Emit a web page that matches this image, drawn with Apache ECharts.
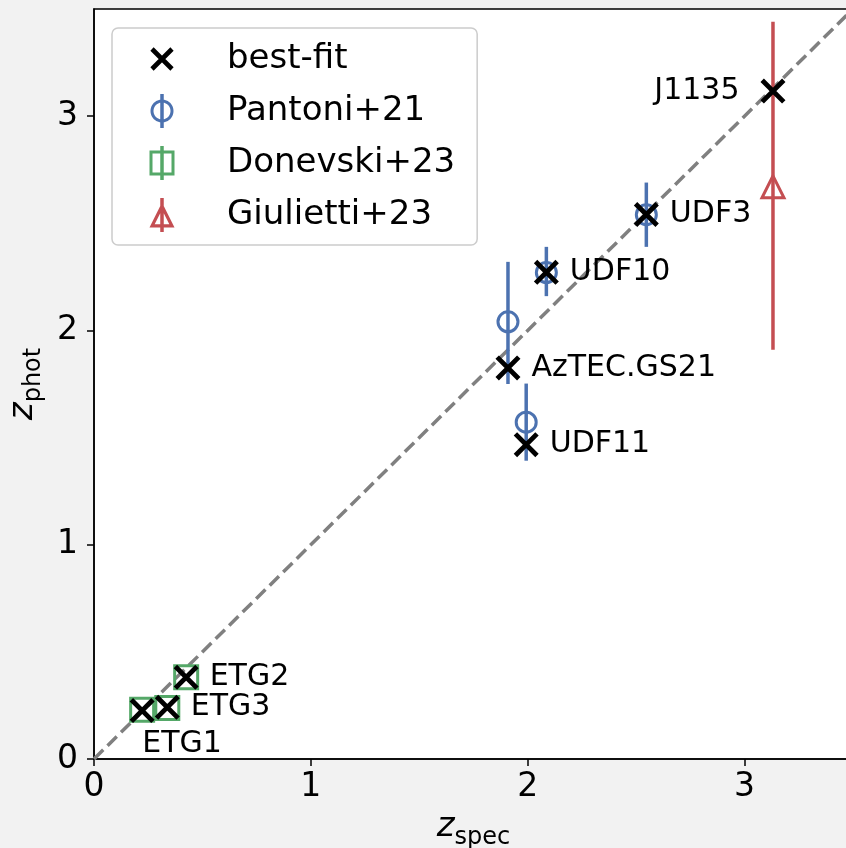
<!DOCTYPE html>
<html><head><meta charset="utf-8">
<script src="https://cdn.jsdelivr.net/npm/echarts@6.0.0/dist/echarts.min.js"></script>
<style>html,body{margin:0;padding:0;background:#f2f2f2;}#c{width:846px;height:848px;}</style>
</head><body><div id="c"></div>
<script>
// ---- data ----
const sourceNames = ['J1135','UDF3','UDF10','AzTEC.GS21','UDF11','ETG2','ETG3','ETG1'];
const zSpec       = [3.131, 2.547, 2.086, 1.909, 1.993, 0.425, 0.338, 0.222];
const zBestFit    = [3.117, 2.541, 2.271, 1.825, 1.467, 0.381, 0.241, 0.226];

const pantoniSpec  = [2.547, 2.086, 1.909, 1.993];
const pantoniPhot  = [2.54, 2.27, 2.04, 1.572];
const pantoniErrLo = [0.15, 0.11, 0.29, 0.18];
const pantoniErrHi = [0.15, 0.12, 0.28, 0.18];

const donevskiSpec = [0.425, 0.338, 0.222];
const donevskiPhot = [0.381, 0.238, 0.230];

const giuliettiSpec  = [3.131];
const giuliettiPhot  = [2.67];
const giuliettiErrLo = [0.76];
const giuliettiErrHi = [0.77];

const oneToOne = [[0, 0], [3.5, 3.5]];
const tickValues = [0, 1, 2, 3];

// ---- styles ----
const FONT = 'DejaVu Sans';
const BLUE = '#4c72b0', GREEN = '#55a868', RED = '#c44e52';

function poly(pts){ return 'M' + pts.map(p => p[0].toFixed(2) + ',' + p[1].toFixed(2)).join('L') + 'Z'; }
function rectPos(x1,y1,x2,y2){ return poly([[x1,y1],[x2,y1],[x2,y2],[x1,y2]]); }
function circlePts(cx,cy,r,n,rev){
  const pts=[]; for(let i=0;i<n;i++){ const a=(rev?-1:1)*2*Math.PI*i/n; pts.push([cx+r*Math.cos(a), cy+r*Math.sin(a)]); } return pts;
}
function xShape(cx,cy,h,w){
  const d = w/(2*Math.SQRT2);
  const a = poly([[cx-h-d,cy-h+d],[cx-h+d,cy-h-d],[cx+h+d,cy+h-d],[cx+h-d,cy+h+d]]);
  const b = poly([[cx+h-d,cy-h-d],[cx+h+d,cy-h+d],[cx-h+d,cy+h+d],[cx-h-d,cy+h-d]]);
  return a + b;
}
function corners(W,H){ return 'M0,0L0.01,0L0,0.01Z' + 'M'+W+','+H+'L'+(W-0.01)+','+H+'L'+W+','+(H-0.01)+'Z'; }
const IW = 80, IH = 40, CX = 20, CY = 20;
const iconX = 'path://' + corners(IW,IH) + xShape(CX,CY,10,4.6);
const iconPhi = 'path://' + corners(IW,IH) + poly(circlePts(CX,CY,11.5,48,false)) + poly(circlePts(CX,CY,8.5,48,true)) + rectPos(CX-1.75,CY-17,CX+1.75,CY+17);
const iconSq = 'path://' + corners(IW,IH) + rectPos(CX-12.5,CY-12.5,CX+12.5,CY+12.5) + poly([[CX-9.5,CY-9.5],[CX-9.5,CY+9.5],[CX+9.5,CY+9.5],[CX+9.5,CY-9.5]]) + rectPos(CX-1.75,CY-17,CX+1.75,CY+17);
function triIcon(){
  const a = 12.5, ic = CY + 0.382*a, r = 0.618*a, k = (r-3.2)/r;
  const outer = [[CX,CY-a],[CX+a,CY+a],[CX-a,CY+a]];
  const inner = outer.map(p => [CX + (p[0]-CX)*k, ic + (p[1]-ic)*k]).reverse();
  return 'path://' + corners(IW,IH) + poly(outer) + poly(inner) + rectPos(CX-1.75,CY-17,CX+1.75,CY+17);
}
const iconTri = triIcon();
const plotX = 'path://' + xShape(50,50,38,17);

function errSeries(name, xs, ys, lo, hi, color){
  return {
    type:'custom', name:name, z:2, silent:true, animation:false,
    data: xs.map((x,i) => [x, ys[i]-lo[i], ys[i]+hi[i]]),
    encode:{x:0, y:[1,2]},
    renderItem:function(params, api){
      const p1 = api.coord([api.value(0), api.value(1)]);
      const p2 = api.coord([api.value(0), api.value(2)]);
      return {type:'line', shape:{x1:p1[0],y1:p1[1],x2:p2[0],y2:p2[1]}, style:{stroke:color, lineWidth:3.5}};
    }
  };
}

const labelCfg = {
  'J1135': {position:'left', distance:21},
  'ETG1': {position:'inside', offset:[40,34]}
};
const bestData = sourceNames.map((n,i) => {
  const item = {name:n, value:[zSpec[i], zBestFit[i]]};
  if (labelCfg[n]) item.label = labelCfg[n];
  return item;
});

const axisCommon = {
  type:'value', min:0, max:3.5, interval:1,
  axisLine:{show:true, onZero:false, lineStyle:{color:'#000', width:1.5}},
  axisTick:{show:true, inside:false, length:7, customValues:tickValues, lineStyle:{color:'#000', width:1.5}},
  splitLine:{show:false},
  nameLocation:'middle'
};
const nameRich = {
  i:{fontStyle:'italic', fontSize:34, fontFamily:FONT, color:'#000', verticalAlign:'bottom'},
  s:{fontSize:24, fontFamily:FONT, color:'#000', verticalAlign:'bottom', padding:[0,0,-6,0]}
};

const chart = echarts.init(document.getElementById('c'), null, {renderer:'canvas'});
chart.setOption({
  animation:false,
  backgroundColor:'#f2f2f2',
  grid:{left:94, top:9, width:759, height:750, outerBoundsMode:'none', containLabel:false,
        show:true, backgroundColor:'#ffffff', borderColor:'#000', borderWidth:1.5},
  xAxis: Object.assign({}, axisCommon, {
    axisLabel:{customValues:tickValues, fontSize:33, color:'#000', fontFamily:FONT, margin:12},
    name:'{i|z}{s|spec}', nameGap:51,
    nameTextStyle:{rich:nameRich}
  }),
  yAxis: Object.assign({}, axisCommon, {
    axisLabel:{customValues:tickValues, fontSize:33, color:'#000', fontFamily:FONT, margin:16},
    name:'{i|z}{s|phot}', nameGap:53, nameRotate:90,
    nameTextStyle:{rich:nameRich}
  }),
  legend:{
    orient:'vertical', left:112, top:28, selectedMode:false,
    padding:[11,22,10,30], itemGap:12, itemWidth:IW, itemHeight:IH,
    backgroundColor:'rgba(255,255,255,0.8)', borderColor:'#cccccc', borderWidth:1.5, borderRadius:6,
    textStyle:{fontSize:34, fontFamily:FONT, color:'#000', lineHeight:40},
    data:[
      {name:'best-fit', icon:iconX, itemStyle:{color:'#000', borderWidth:0}},
      {name:'Pantoni+21', icon:iconPhi, itemStyle:{color:BLUE, borderWidth:0}},
      {name:'Donevski+23', icon:iconSq, itemStyle:{color:GREEN, borderWidth:0}},
      {name:'Giulietti+23', icon:iconTri, itemStyle:{color:RED, borderWidth:0}}
    ]
  },
  series:[
    {type:'line', name:'1:1', data:oneToOne, showSymbol:false, silent:true, z:1,
     lineStyle:{color:'#808080', width:3.5, type:[13,6]}},
    errSeries('Pantoni+21 err', pantoniSpec, pantoniPhot, pantoniErrLo, pantoniErrHi, BLUE),
    errSeries('Giulietti+23 err', giuliettiSpec, giuliettiPhot, giuliettiErrLo, giuliettiErrHi, RED),
    {type:'scatter', name:'Pantoni+21', z:3, silent:true, symbol:'circle', symbolSize:20,
     data:pantoniSpec.map((x,i)=>[x, pantoniPhot[i]]),
     itemStyle:{color:'rgba(255,255,255,0)', borderColor:BLUE, borderWidth:3, opacity:1}},
    {type:'scatter', name:'Donevski+23', z:3, silent:true, symbol:'rect', symbolSize:23,
     data:donevskiSpec.map((x,i)=>[x, donevskiPhot[i]]),
     itemStyle:{color:'rgba(255,255,255,0)', borderColor:GREEN, borderWidth:3, opacity:1}},
    {type:'scatter', name:'Giulietti+23', z:3, silent:true, symbol:'triangle', symbolSize:22,
     data:giuliettiSpec.map((x,i)=>[x, giuliettiPhot[i]]),
     itemStyle:{color:'rgba(255,255,255,0)', borderColor:RED, borderWidth:3, opacity:1}},
    {type:'scatter', name:'best-fit', z:4, silent:true, symbol:plotX, symbolSize:25,
     data:bestData, itemStyle:{color:'#000', opacity:1},
     label:{show:true, formatter:'{b}', position:'right', distance:11, fontSize:30, fontFamily:FONT, color:'#000'}}
  ]
});
</script></body></html>
